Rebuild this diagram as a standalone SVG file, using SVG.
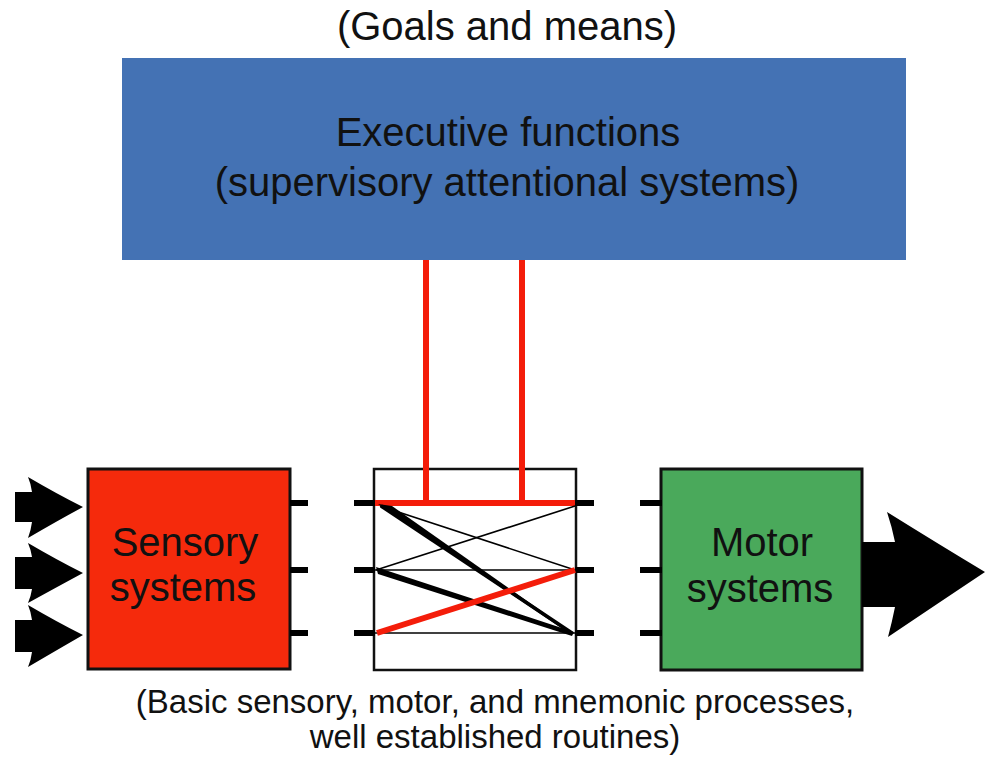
<svg xmlns="http://www.w3.org/2000/svg" width="985" height="758" viewBox="0 0 985 758">
<style>
text{font-family:"Liberation Sans",Arial,sans-serif;fill:#111;text-anchor:middle}
.big{font-size:40px}
.lbl{font-size:40px}
.note{font-size:33px}
.box{stroke:#111;stroke-width:3}
.stub{stroke:#000;stroke-width:6}
.thin{stroke:#000;stroke-width:1.6;fill:none}
.red{stroke:#f41d0a;fill:none}
</style>
<rect width="985" height="758" fill="#fff"/>
<text class="big" x="507" y="40">(Goals and means)</text>
<g id="executive">
<rect x="122" y="58" width="784" height="202" fill="#4472b4"/>
<text class="big" x="508" y="146">Executive functions</text>
<text class="big" x="507" y="196">(supervisory attentional systems)</text>
</g>
<g id="sensory">
<rect class="box" x="88" y="469" width="202" height="200" fill="#f52a0c"/>
<text class="lbl" x="185" y="556">Sensory</text>
<text class="lbl" x="183" y="601">systems</text>
</g>
<g id="switch">
<rect x="374" y="469" width="202" height="201" fill="#fff" stroke="#111" stroke-width="2.5"/>
</g>
<g id="motor">
<rect class="box" x="661" y="469" width="201" height="201" fill="#4aa95b"/>
<text class="lbl" x="762" y="556">Motor</text>
<text class="lbl" x="760" y="602">systems</text>
</g>
<g id="connectors">
<!-- input arrows -->
<path d="M15,492 L32,492 Q31,484 28,477 Q57,494 83,507 Q57,521 28,538 Q31,530 32,522 L15,522 Z" fill="#000"/>
<path d="M15,557 L32,557 Q31,550 28,543 Q57,560 83,573 Q57,587 28,603 Q31,596 32,589 L15,589 Z" fill="#000"/>
<path d="M15,620 L32,620 Q31,612 28,605 Q57,622 83,635 Q57,650 28,667 Q31,660 32,652 L15,652 Z" fill="#000"/>
<!-- output arrow -->
<path d="M862,542 L895,542 Q892,527 887,512 Q940,545 985,572 Q940,602 888,637 Q892,622 895,607 L862,607 Z" fill="#000"/>
<!-- stubs -->
<line class="stub" x1="290" y1="503" x2="308" y2="503"/>
<line class="stub" x1="290" y1="570" x2="308" y2="570"/>
<line class="stub" x1="290" y1="633" x2="308" y2="633"/>
<line class="stub" x1="354" y1="503" x2="375" y2="503"/>
<line class="stub" x1="354" y1="570" x2="375" y2="570"/>
<line class="stub" x1="354" y1="633" x2="375" y2="633"/>
<line class="stub" x1="575" y1="503" x2="594" y2="503"/>
<line class="stub" x1="575" y1="570" x2="594" y2="570"/>
<line class="stub" x1="575" y1="633" x2="594" y2="633"/>
<line class="stub" x1="640" y1="503" x2="662" y2="503"/>
<line class="stub" x1="640" y1="570" x2="662" y2="570"/>
<line class="stub" x1="640" y1="633" x2="662" y2="633"/>
<!-- red control lines -->
<line class="red" stroke-width="6" x1="426" y1="260" x2="426" y2="503"/>
<line class="red" stroke-width="6" x1="522" y1="260" x2="522" y2="503"/>
<line class="red" stroke-width="6" x1="375" y1="503" x2="575" y2="503"/>
<!-- switch matrix -->
<line class="thin" x1="375" y1="570" x2="575" y2="570"/>
<line class="thin" x1="375" y1="633" x2="575" y2="633"/>
<line class="thin" x1="380" y1="506" x2="575" y2="570"/>
<line class="thin" x1="575" y1="506" x2="376" y2="570"/>
<polygon points="378,504 392,506 574,634 570,634" fill="#000"/>
<line stroke="#000" stroke-width="3.5" x1="381" y1="506" x2="572" y2="633"/>
<polygon points="376,567 378,574 572,636 574,632" fill="#000"/>
<line class="red" stroke-width="6" x1="377" y1="633" x2="575" y2="570"/>
</g>
<text class="note" x="495" y="713">(Basic sensory, motor, and mnemonic processes,</text>
<text class="note" x="495" y="748">well established routines)</text>
</svg>
